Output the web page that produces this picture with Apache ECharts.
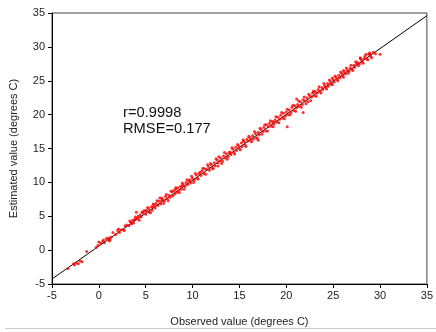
<!DOCTYPE html>
<html>
<head>
<meta charset="utf-8">
<script src="https://cdn.jsdelivr.net/npm/echarts@6/dist/echarts.min.js"></script>
<style>html,body{margin:0;padding:0;background:#fff}#c{width:436px;height:332px}</style>
</head>
<body>
<div id="c"></div>
<script>
const xTicks = [-5, 0, 5, 10, 15, 20, 25, 30, 35];
const yTicks = [-5, 0, 5, 10, 15, 20, 25, 30, 35];
const xTitle = 'Observed value (degrees C)';
const yTitle = 'Estimated value (degrees C)';
const statR = 'r=0.9998';
const statRMSE = 'RMSE=0.177';
const fitLine = [[-5, -4.26], [35, 34.6]];
const observed = [
-3.3,-2.7,-2.6,-2.4,-2.2,-2.0,-1.8,-1.3,-0.3,-0.1,0.0,0.2,0.4,0.6,0.8,1.0,1.3,1.5,1.8,2.0,
2.2,2.4,2.6,2.8,3.0,3.2,3.4,3.5,3.6,3.7,3.8,3.9,4.0,4.1,4.2,4.4,4.5,4.7,4.8,5.0,
5.0,5.1,5.3,5.4,5.6,5.7,5.9,6.0,6.1,6.3,6.4,6.5,6.6,6.8,7.0,7.1,7.3,7.5,7.6,7.8,
7.9,8.0,8.1,8.2,8.3,8.4,8.5,8.7,8.8,9.0,9.2,9.3,9.5,9.7,9.8,10.0,10.2,10.4,10.5,10.7,
10.9,11.0,11.2,11.3,11.5,11.7,11.8,12.0,12.1,12.3,12.4,12.6,12.7,12.9,13.0,13.2,13.3,13.5,13.6,13.8,
14.0,14.1,14.3,14.4,14.6,14.7,14.9,15.0,15.2,15.3,15.5,15.6,15.8,15.9,16.1,16.2,16.4,16.5,16.7,16.8,
17.0,17.1,17.3,17.5,17.6,17.8,17.9,18.1,18.2,18.4,18.5,18.7,18.8,19.0,19.1,19.3,19.4,19.6,19.7,19.9,
20.0,20.2,20.3,20.5,20.6,20.8,20.9,21.1,21.2,21.4,21.5,21.7,21.8,22.0,22.2,22.3,22.5,22.7,22.8,23.0,
23.1,23.3,23.4,23.6,23.8,23.9,24.1,24.2,24.4,24.5,24.7,24.8,25.0,25.1,25.3,25.4,25.6,25.7,25.9,26.0,
26.2,26.3,26.5,26.7,26.8,27.0,27.2,27.3,27.5,27.6,27.8,28.0,28.1,28.3,28.4,28.6,28.8,29.0,29.3,30.0,
20.1,21.8,21.1,17.0,12.7,9.6,6.7,3.9,1.2,24.9,27.9,28.9,13.9,15.4,18.6,22.9,26.1,10.8,8.9,5.8,
0.5,1.1,2.1,2.7,3.3,4.3,4.6,5.2,5.5,5.8,6.2,6.7,6.9,7.2,7.4,7.7,8.2,8.6,8.9,9.1,
9.4,9.9,10.1,10.3,10.6,11.1,11.4,11.6,11.9,12.2,12.5,12.8,13.1,13.4,13.7,14.2,14.5,14.8,15.1,15.4,
15.7,16.0,16.3,16.6,16.9,17.2,17.4,17.7,18.0,18.3,18.6,18.9,19.2,19.5,19.8,20.1,20.4,20.7,21.0,21.3,
21.6,21.9,22.1,22.4,22.6,22.9,23.2,23.5,23.7,24.0,24.3,24.6,24.9,25.2,25.5,25.8,26.1,26.4,26.6,26.9,
27.1,27.4,27.7,27.9,28.2,28.5,28.7,28.9,29.1,29.5
];
const estimated = [
-2.7,-2.0,-2.2,-1.9,-2.0,-1.6,-1.7,-0.2,0.4,0.7,1.2,1.0,1.3,1.1,1.7,1.8,1.9,2.6,2.3,2.9,
2.6,3.0,3.0,3.6,3.7,3.6,4.1,3.9,4.4,4.0,4.5,4.9,5.6,4.7,5.0,5.2,4.9,5.5,5.8,5.3,
5.9,5.7,6.1,5.6,6.4,5.9,6.7,6.2,6.9,6.6,7.2,7.7,6.8,7.5,7.2,7.9,7.6,8.1,7.8,8.6,
8.0,8.8,8.3,9.0,8.5,9.2,8.7,9.4,9.0,9.7,9.4,10.0,9.7,10.4,9.9,10.6,10.3,11.1,10.6,11.3,
11.0,11.7,11.3,12.0,11.9,12.3,11.8,12.6,12.1,12.9,12.4,13.3,12.4,13.2,13.6,13.1,13.9,13.6,14.2,13.8,
14.5,14.1,14.9,14.4,15.2,14.7,15.4,15.0,15.8,15.3,16.0,15.5,16.4,16.1,16.6,16.2,16.9,16.4,17.2,16.6,
17.4,17.0,17.8,17.5,18.1,17.6,18.5,18.2,18.7,18.3,19.0,18.6,19.2,18.9,19.6,19.3,19.9,19.5,20.2,19.8,
20.4,20.0,20.7,20.3,21.1,20.6,21.3,21.0,21.5,21.2,21.9,21.5,22.2,22.0,22.5,21.9,22.8,22.6,23.2,22.8,
23.4,23.2,23.7,23.4,24.0,23.7,24.3,24.0,24.6,24.2,24.9,24.5,25.2,24.8,25.5,25.2,25.8,25.4,26.1,25.7,
26.3,26.0,26.6,26.4,26.9,26.7,27.3,27.0,27.5,27.7,27.5,28.1,27.8,28.3,28.6,28.2,28.9,28.6,29.2,28.9,
18.2,20.3,22.3,16.2,12.9,10.2,7.3,4.6,1.5,25.4,28.4,29.0,14.4,16.1,18.9,23.3,26.5,11.5,9.5,6.4,
1.5,1.4,3.1,2.9,4.3,4.4,5.6,6.3,5.5,6.8,7.3,7.7,6.9,8.2,7.3,8.7,9.2,8.5,9.9,9.0,
10.4,10.9,10.0,11.3,10.5,12.1,11.2,12.6,12.8,12.0,13.5,13.8,12.8,14.4,13.4,15.1,14.2,15.6,14.8,16.3,
15.3,16.8,16.0,17.5,16.5,18.0,17.1,18.5,17.6,19.1,18.2,19.7,18.8,20.3,19.4,20.8,20.0,21.4,20.5,22.0,
21.1,22.6,21.6,23.0,22.1,23.5,22.7,24.1,23.2,24.6,23.8,25.1,24.4,25.7,25.0,26.3,25.5,26.9,26.1,27.3,
26.5,27.8,27.2,28.3,27.6,28.9,28.1,29.1,28.4,29.0
];

const points = observed.map((v, i) => [v, estimated[i]]);
const chart = echarts.init(document.getElementById('c'), null, {renderer: 'canvas'});
const font = 'Liberation Sans, Arial, sans-serif';
chart.setOption({
  animation: false,
  backgroundColor: '#fff',
  grid: {left: 52, right: 7, top: 13, bottom: 48, show: true, borderColor: '#444', borderWidth: 1, backgroundColor: 'transparent'},
  xAxis: {
    type: 'value', min: xTicks[0], max: xTicks[xTicks.length - 1], interval: 5,
    name: xTitle, nameLocation: 'middle', nameGap: 32,
    nameTextStyle: {fontFamily: font, fontSize: 11, color: '#222'},
    axisLine: {show: true, onZero: false, lineStyle: {color: '#000', width: 1}},
    axisTick: {show: true, inside: false, length: 4, lineStyle: {color: '#000'}},
    axisLabel: {fontFamily: font, fontSize: 11, color: '#222', margin: 6},
    splitLine: {show: false}
  },
  yAxis: {
    type: 'value', min: yTicks[0], max: yTicks[yTicks.length - 1], interval: 5,
    name: yTitle, nameLocation: 'middle', nameGap: 33,
    nameTextStyle: {fontFamily: font, fontSize: 11, color: '#222'},
    axisLine: {show: true, onZero: false, lineStyle: {color: '#000', width: 1}},
    axisTick: {show: true, inside: false, length: 4, lineStyle: {color: '#000'}},
    axisLabel: {fontFamily: font, fontSize: 11, color: '#222', margin: 7},
    splitLine: {show: false}
  },
  series: [
    {type: 'line', data: fitLine, symbol: 'none', lineStyle: {color: '#000', width: 1}, z: 2},
    {type: 'scatter', data: points, symbol: 'circle', symbolSize: 3, itemStyle: {color: '#ff0000'}, z: 3}
  ],
  graphic: [
    {type: 'text', left: 123, top: 105, style: {text: statR + '\n' + statRMSE, fontFamily: font, fontSize: 14.7, lineHeight: 16, fill: '#111'}},
    {type: 'line', shape: {x1: 5, y1: 328.5, x2: 436, y2: 328.5}, style: {stroke: '#ccc', lineWidth: 1}}
  ]
});
</script>
</body>
</html>
